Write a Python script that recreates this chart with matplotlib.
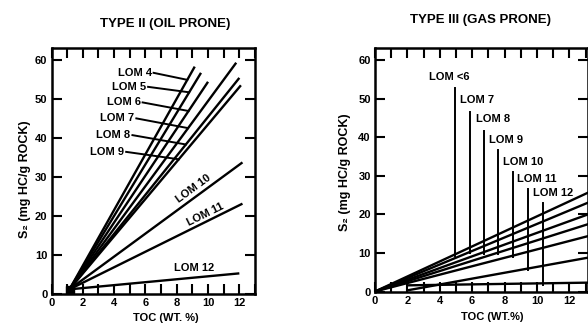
import matplotlib
matplotlib.use("Agg")
import matplotlib.pyplot as plt
import numpy as np

plt.rcParams['font.family'] = ['Liberation Sans', 'DejaVu Sans']
plt.rcParams['font.weight'] = 'bold'

# ---------------- data: TYPE II (oil prone) ----------------
t2_labels = ["LOM 4", "LOM 5", "LOM 6", "LOM 7", "LOM 8", "LOM 9", "LOM 10", "LOM 11", "LOM 12"]
t2_start_toc = 1.15
t2_start_s2 = 1.2
t2_end_toc = [9.15, 9.55, 10.0, 11.8, 12.0, 12.1, 12.2, 12.2, 12.0]
t2_end_s2 = [58.4, 56.8, 54.5, 59.4, 55.5, 53.6, 33.8, 23.2, 5.3]
# leader-labelled lines (LOM 4..9): label anchor and the S2 level where the leader meets the line
t2_lead_label_toc = [6.4, 6.05, 5.7, 5.3, 5.05, 4.65]
t2_lead_label_s2 = [56.8, 53.2, 49.2, 45.1, 40.8, 36.5]
t2_lead_end_s2 = [55.0, 51.8, 47.0, 42.6, 38.4, 34.6]
# inline labels (LOM 10..12)
t2_inline_toc = [9.05, 9.83, 9.14]
t2_inline_s2 = [27.1, 20.3, 6.6]

# ---------------- data: TYPE III (gas prone) ----------------
t3_labels = ["LOM <6", "LOM 7", "LOM 8", "LOM 9", "LOM 10", "LOM 11", "LOM 12"]
t3_start_toc = [0, 0, 0, 0, 0, 2.0, 2.0]
t3_start_s2 = [0, 0, 0, 0, 0, 0.3, 1.6]
t3_end_toc = [13.17] * 7
t3_end_s2 = [25.7, 23.1, 20.05, 17.5, 14.4, 8.8, 2.3]
t3_vert_toc = [4.96, 5.87, 6.7, 7.6, 8.5, 9.45, 10.4]
t3_vert_top = [52.8, 46.7, 41.8, 36.8, 31.0, 26.6, 22.9]
t3_label_toc = [3.34, 5.25, 6.22, 7.06, 7.93, 8.79, 9.74]
t3_label_s2 = [55.8, 49.6, 44.7, 39.4, 33.7, 29.2, 25.5]

xticks = [0, 2, 4, 6, 8, 10, 12]
yticks = [0, 10, 20, 30, 40, 50, 60]

W, H = 588, 326
fig = plt.figure(figsize=(W / 100, H / 100), dpi=100)


def make_axes(l, r, t, b, xmax, ymax):
    ax = fig.add_axes([l / W, 1 - b / H, (r - l) / W, (b - t) / H])
    ax.set_xlim(0, xmax)
    ax.set_ylim(0, ymax)
    ax.set_xticks(xticks)
    ax.set_xticks(np.arange(1, 14), minor=True)
    ax.set_yticks(yticks)
    ax.tick_params(axis='both', which='both', direction='in', length=7, width=1.5,
                   top=True, right=True, labelsize=8, pad=3, colors='black')
    ax.tick_params(axis='y', which='minor', left=False, right=False)
    for s in ax.spines.values():
        s.set_linewidth(1.8)
    for lab in ax.get_xticklabels() + ax.get_yticklabels():
        lab.set_fontweight('bold')
    return ax


LW = 1.7
TXT = dict(fontsize=8, fontweight='bold', color='black')

# ---------------- left panel ----------------
ax1 = make_axes(51.5, 255, 48.3, 294, 12.73, 63.1)
for i, lab in enumerate(t2_labels):
    ax1.plot([t2_start_toc, t2_end_toc[i]], [t2_start_s2, t2_end_s2[i]], color='black', lw=LW,
             solid_capstyle='butt')
ax1.plot([t2_start_toc], [t2_start_s2 - 0.1], marker='s', ms=5.5, color='black')

for i in range(6):
    xe = np.interp(t2_lead_end_s2[i], [t2_start_s2, t2_end_s2[i]], [t2_start_toc, t2_end_toc[i]])
    ax1.plot([t2_lead_label_toc[i] + 0.12, xe], [t2_lead_label_s2[i], t2_lead_end_s2[i]],
             color='black', lw=1.4)
    ax1.text(t2_lead_label_toc[i], t2_lead_label_s2[i], t2_labels[i], ha='right', va='center', **TXT)

for j in range(3):
    i = 6 + j
    p0 = ax1.transData.transform((t2_start_toc, t2_start_s2))
    p1 = ax1.transData.transform((t2_end_toc[i], t2_end_s2[i]))
    ang = np.degrees(np.arctan2(p1[1] - p0[1], p1[0] - p0[0]))
    if j == 2:
        ang = 0
    ax1.text(t2_inline_toc[j], t2_inline_s2[j], t2_labels[i], rotation=ang, rotation_mode='anchor',
             ha='center', va='center', **TXT)

# ---------------- right panel ----------------
ax2 = make_axes(375, 587.5, 47.7, 291.5, 13.12, 63.3)
for i, lab in enumerate(t3_labels):
    ax2.plot([t3_start_toc[i], t3_end_toc[i]], [t3_start_s2[i], t3_end_s2[i]], color='black', lw=LW,
             solid_capstyle='butt')
    yb = np.interp(t3_vert_toc[i], [t3_start_toc[i], t3_end_toc[i]], [t3_start_s2[i], t3_end_s2[i]])
    ax2.plot([t3_vert_toc[i], t3_vert_toc[i]], [yb - 0.4, t3_vert_top[i]], color='black', lw=1.4)
    ax2.text(t3_label_toc[i], t3_label_s2[i], lab, ha='left', va='center', **TXT)

# ---------------- titles & axis labels ----------------
fig.text(165 / W, 1 - 24 / H, "TYPE II (OIL PRONE)", ha='center', va='center', fontsize=9.5, fontweight='bold')
fig.text(481 / W, 1 - 20 / H, "TYPE III (GAS PRONE)", ha='center', va='center', fontsize=9.5, fontweight='bold')
fig.text(25 / W, 1 - 179 / H, "S₂ (mg HC/g ROCK)", rotation=90, ha='center', va='center',
         fontsize=9, fontweight='bold')
fig.text(345 / W, 1 - 172 / H, "S₂ (mg HC/g ROCK)", rotation=90, ha='center', va='center',
         fontsize=9, fontweight='bold')
fig.text(166 / W, 1 - 318 / H, "TOC (WT. %)", ha='center', va='center', fontsize=8, fontweight='bold')
fig.text(492 / W, 1 - 317 / H, "TOC (WT.%)", ha='center', va='center', fontsize=8, fontweight='bold')

fig.savefig("out.png", dpi=100)
